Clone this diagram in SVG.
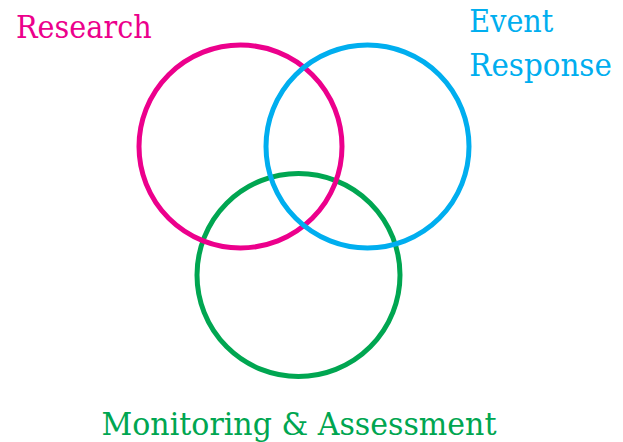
<svg xmlns="http://www.w3.org/2000/svg" width="623" height="442" viewBox="0 0 623 442">
  <style>
    .ring { fill: none; stroke-width: 5; }
    .magenta { stroke: #EC008C; }
    .blue { stroke: #00AEEF; }
    .green { stroke: #00A651; }
    .label { font-family: "DejaVu Serif", "Liberation Serif", serif; font-size: 32px; }
  </style>
  <rect width="623" height="442" fill="#ffffff"/>
  <g id="monitoring">
    <circle class="ring green" cx="298.5" cy="275" r="101.5"/>
    <text class="label" x="101.5" y="435" fill="#00A651" textLength="395" lengthAdjust="spacingAndGlyphs">Monitoring &amp; Assessment</text>
  </g>
  <g id="research">
    <circle class="ring magenta" cx="240.5" cy="146.5" r="101.5"/>
    <text class="label" x="16" y="38.3" fill="#EC008C" textLength="135.7" lengthAdjust="spacingAndGlyphs">Research</text>
  </g>
  <g id="event-response">
    <circle class="ring blue" cx="367.5" cy="146.5" r="101.5"/>
    <text class="label" x="469.3" y="31.7" fill="#00AEEF" textLength="84" lengthAdjust="spacingAndGlyphs">Event</text>
    <text class="label" x="469.3" y="76" fill="#00AEEF" font-size="30" textLength="142.5" lengthAdjust="spacingAndGlyphs">Response</text>
  </g>
  <g id="connectors"/>
</svg>
